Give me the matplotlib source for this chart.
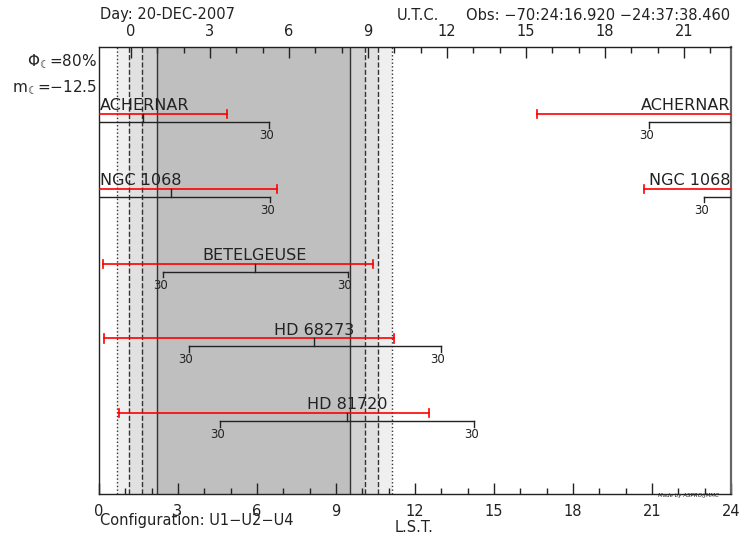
import matplotlib
matplotlib.use("Agg")
import matplotlib.pyplot as plt

# star data (hours LST)
names = ["ACHERNAR", "NGC 1068", "BETELGEUSE", "HD 68273", "HD 81720"]
transit = [1.68, 2.73, 5.92, 8.18, 9.43]
obs_start = [16.62, 20.71, 0.16, 0.20, 0.77]   # red bars
obs_end = [4.85, 6.75, 10.39, 11.20, 12.54]
lim_start = [20.88, 22.97, 2.44, 3.41, 4.60]   # black brackets
lim_end = [6.46, 6.49, 9.44, 12.98, 14.24]
lim_label = ["30", "30", "30", "30", "30"]

# night / twilight boundaries (LST)
twi_left = [0.67, 1.15, 1.62, 2.19]
twi_right = [11.12, 10.61, 10.10, 9.53]
twi_colors = ["#efefef", "#e1e1e1", "#d2d2d2", "#bfbfbf"]
twi_styles = [":", "--", "--", "-"]

utc_offset = 1.215
lst_ticks = list(range(0, 25, 3))
utc_ticks = list(range(0, 22, 3))

txt = "#222222"

fig = plt.figure(figsize=(7.41, 5.35), dpi=100)
ax = fig.add_axes([99 / 741, 41 / 535, 632 / 741, 447 / 535])
ax.set_xlim(0, 24)
ax.set_ylim(5.08, -0.896)
ax.set_yticks([])

for a, b, c in zip(twi_left, twi_right, twi_colors):
    ax.axvspan(a, b, color=c, lw=0, zorder=0)
for a, b, s in zip(twi_left, twi_right, twi_styles):
    ax.axvline(a, color="#333333", lw=1, ls=s, zorder=1)
    ax.axvline(b, color="#333333", lw=1, ls=s, zorder=1)


def segment(y, a, b, **kw):
    if a <= b:
        ax.plot([a, b], [y, y], **kw)
    else:
        ax.plot([a, 24], [y, y], **kw)
        ax.plot([0, b], [y, y], **kw)


for i, name in enumerate(names):
    yb = i + 0.107
    # red observability bar with caps
    segment(i, obs_start[i], obs_end[i], color="red", lw=1.2, zorder=3)
    for x in (obs_start[i], obs_end[i]):
        ax.plot([x, x], [i - 0.055, i + 0.055], color="red", lw=1.2, zorder=3)
    # black bracket
    segment(yb, lim_start[i], lim_end[i], color="#222222", lw=1, zorder=3)
    ax.plot([transit[i], transit[i]], [i, yb], color="#222222", lw=1, zorder=3)
    for x in (lim_start[i], lim_end[i]):
        ax.plot([x, x], [yb, yb + 0.075], color="#222222", lw=1, zorder=3)
        ax.annotate(lim_label[i], (x, yb + 0.075), xytext=(-2, -1),
                    textcoords="offset points", ha="center", va="top",
                    fontsize=8.5, color=txt, zorder=4)
    # star name
    if obs_start[i] > obs_end[i]:
        ax.text(0.03, i - 0.05, name, ha="left", va="baseline",
                fontsize=11.5, color=txt, zorder=4)
        ax.text(23.97, i - 0.05, name, ha="right", va="baseline",
                fontsize=11.5, color=txt, zorder=4)
    else:
        ax.text(transit[i], i - 0.05, name, ha="center", va="baseline",
                fontsize=11.5, color=txt, zorder=4)

# bottom LST axis
ax.set_xticks(lst_ticks)
ax.set_xticks(range(25), minor=True)
ax.tick_params(axis="x", which="major", direction="in", length=8, width=1,
               pad=7, labelsize=10.5, labelcolor=txt, color="#222222")
ax.tick_params(axis="x", which="minor", direction="in", length=4, width=1,
               color="#222222")
for sp in ax.spines.values():
    sp.set_color("#222222")
    sp.set_linewidth(1)
ax.spines["right"].set_color("#666666")
ax.spines["right"].set_linewidth(1.6)

# top UTC axis
top = ax.secondary_xaxis("top", functions=(lambda x: x - utc_offset,
                                           lambda x: x + utc_offset))
top.set_xticks(utc_ticks)
top.set_xticks(range(0, 23), minor=True)
top.tick_params(axis="x", which="major", direction="in", length=8, width=1,
                pad=6, labelsize=10.5, labelcolor=txt, color="#222222")
top.tick_params(axis="x", which="minor", direction="in", length=4, width=1,
                color="#222222")
top.spines["top"].set_visible(False)

# header / footer text
fig.text(100 / 741, 1 - 15 / 535, "Day: 20-DEC-2007", ha="left", va="center",
         fontsize=10.5, color=txt)
fig.text(418 / 741, 1 - 15 / 535, "U.T.C.", ha="center", va="center",
         fontsize=10.5, color=txt)
fig.text(730 / 741, 1 - 15 / 535, "Obs: \u221270:24:16.920 \u221224:37:38.460",
         ha="right", va="center", fontsize=10.5, color=txt)
fig.text(97 / 741, 1 - 62 / 535, "$\\Phi_{\u263e}$=80%", ha="right",
         va="center", fontsize=11, color=txt)
fig.text(97 / 741, 1 - 88 / 535, "m$_{\u263e}$=\u221212.5", ha="right",
         va="center", fontsize=11, color=txt)
fig.text(100 / 741, 1 - 521 / 535, "Configuration: U1\u2212U2\u2212U4",
         ha="left", va="center", fontsize=10.5, color=txt)
fig.text(414 / 741, 1 - 527 / 535, "L.S.T.", ha="center", va="center",
         fontsize=10.5, color=txt)
fig.text(688 / 741, 1 - 495 / 535, "Made by ASPRO/JMMC", ha="center",
         va="center", fontsize=4, style="italic", color=txt)

fig.savefig("out.png", dpi=100)
